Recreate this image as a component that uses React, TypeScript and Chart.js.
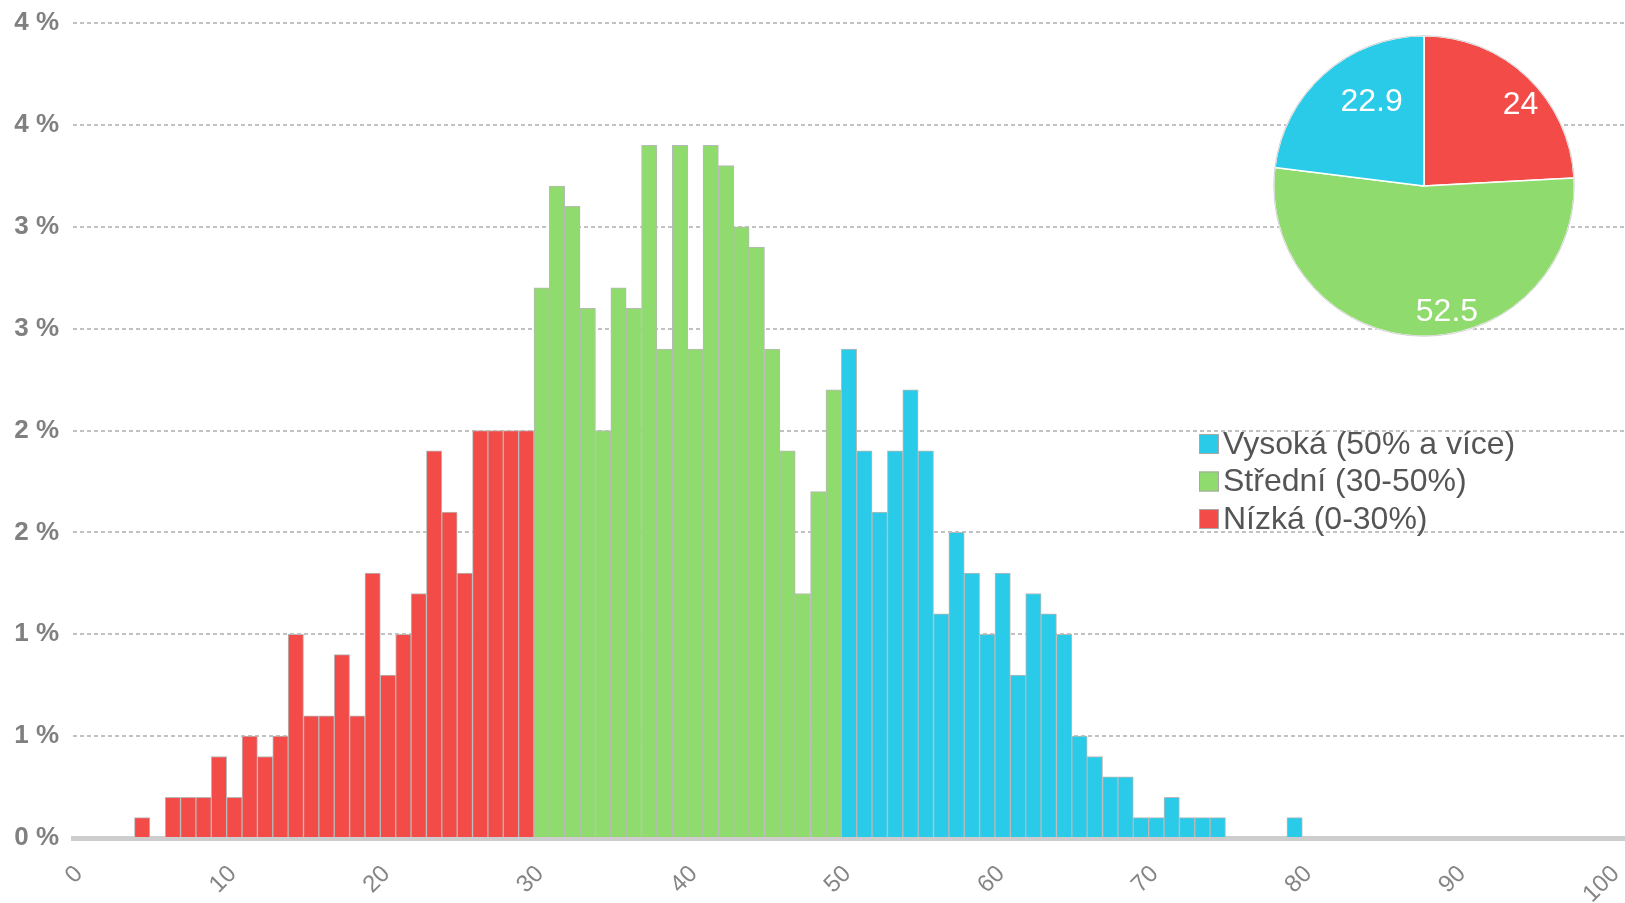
import React, { useEffect, useRef } from 'react';
import { Chart, registerables } from 'chart.js';

Chart.register(...registerables);

// Histogram values in % for bins 0..100
const values = [
  0, 0, 0, 0, 0.1, 0, 0.2, 0.2, 0.2, 0.4,
  0.2, 0.5, 0.4, 0.5, 1.0, 0.6, 0.6, 0.9, 0.6, 1.3,
  0.8, 1.0, 1.2, 1.9, 1.6, 1.3, 2.0, 2.0, 2.0, 2.0,
  2.7, 3.2, 3.1, 2.6, 2.0, 2.7, 2.6, 3.4, 2.4, 3.4,
  2.4, 3.4, 3.3, 3.0, 2.9, 2.4, 1.9, 1.2, 1.7, 2.2,
  2.4, 1.9, 1.6, 1.9, 2.2, 1.9, 1.1, 1.5, 1.3, 1.0,
  1.3, 0.8, 1.2, 1.1, 1.0, 0.5, 0.4, 0.3, 0.3, 0.1,
  0.1, 0.2, 0.1, 0.1, 0.1, 0, 0, 0, 0, 0.1,
  0, 0, 0, 0, 0, 0, 0, 0, 0, 0,
  0, 0, 0, 0, 0, 0, 0, 0, 0, 0,
  0,
];
const bins = values.map((_, i) => i);

const xTicks = [0, 10, 20, 30, 40, 50, 60, 70, 80, 90, 100];
const yTicks = [0, 0.5, 1, 1.5, 2, 2.5, 3, 3.5, 4];

const seriesNames = ['Vysoká (50% a více)', 'Střední (30-50%)', 'Nízká (0-30%)'];
const seriesFrom = [50, 30, 0];
const seriesColors = ['#2acbe8', '#8fdb6d', '#f34b47'];

const pieLabels = ['Nízká (0-30%)', 'Střední (30-50%)', 'Vysoká (50% a více)'];
const pieValues = [24, 52.5, 22.9];
const pieColors = ['#f34b47', '#8fdb6d', '#2acbe8'];

const colorFor = (bin: number) => seriesColors[seriesFrom.findIndex((f) => bin >= f)];

const legendPlugin = {
  id: 'customLegend',
  afterDraw(chart: any) {
    const ctx = chart.ctx;
    ctx.save();
    const x0 = 1199;
    const y0 = 444;
    const dy = 37.5;
    const box = 20;
    ctx.font = '32px "Liberation Sans", Arial, sans-serif';
    ctx.textBaseline = 'middle';
    ctx.textAlign = 'left';
    seriesNames.forEach((name, i) => {
      const y = y0 + i * dy;
      ctx.fillStyle = seriesColors[i];
      ctx.fillRect(x0, y - box / 2, box, box);
      ctx.strokeStyle = '#a8a8a8';
      ctx.lineWidth = 1;
      ctx.strokeRect(x0 + 0.5, y - box / 2 + 0.5, box - 1, box - 1);
      ctx.fillStyle = '#555555';
      ctx.fillText(name, x0 + 24, y + 1);
    });
    ctx.restore();
  },
};

const pieLabelPlugin = {
  id: 'pieLabels',
  afterDatasetsDraw(chart: any) {
    const ctx = chart.ctx;
    const meta = chart.getDatasetMeta(0);
    ctx.save();
    meta.data.forEach((arc: any, i: number) => {
      const { x, y, startAngle, endAngle, outerRadius } = arc.getProps(
        ['x', 'y', 'startAngle', 'endAngle', 'outerRadius'],
        true
      );
      if (i === 0) {
        ctx.beginPath();
        ctx.arc(x, y, outerRadius, 0, Math.PI * 2);
        ctx.strokeStyle = '#d2d2d2';
        ctx.lineWidth = 1;
        ctx.stroke();
      }
      const mid = (startAngle + endAngle) / 2;
      const r = outerRadius * 0.8;
      ctx.font = '32px "Liberation Sans", Arial, sans-serif';
      ctx.fillStyle = '#ffffff';
      ctx.textAlign = 'left';
      ctx.textBaseline = 'middle';
      ctx.fillText(String(pieValues[i]), x + Math.cos(mid) * r - 4, y + Math.sin(mid) * r + 6);
    });
    ctx.restore();
  },
};

export default function App() {
  const barRef = useRef<HTMLCanvasElement | null>(null);
  const pieRef = useRef<HTMLCanvasElement | null>(null);

  useEffect(() => {
    document.body.style.margin = '0';
    const barChart = new Chart(barRef.current as HTMLCanvasElement, {
      type: 'bar',
      data: {
        datasets: [
          {
            data: bins.map((b, i) => ({ x: b + 0.5, y: values[i] })),
            backgroundColor: bins.map(colorFor),
            borderColor: '#b9b9b9',
            borderWidth: 1,
            barPercentage: 1,
            categoryPercentage: 1,
            grouped: false,
          } as any,
        ],
      },
      options: {
        animation: false,
        responsive: true,
        maintainAspectRatio: false,
        events: [],
        layout: { padding: { top: 23, left: 0, right: 0, bottom: 0 } },
        plugins: { legend: { display: false }, tooltip: { enabled: false } },
        scales: {
          x: {
            type: 'linear',
            offset: false,
            min: 0,
            max: bins.length,
            afterBuildTicks: (s: any) => {
              s.ticks = xTicks.map((v) => ({ value: v }));
            },
            afterFit: (s: any) => {
              s.height = 65;
              s.paddingLeft = 0;
              s.paddingRight = 0;
            },
            grid: { display: false, drawTicks: false, offset: false },
            border: { display: true, color: '#cdcdcd', width: 5 },
            ticks: {
              autoSkip: false,
              minRotation: 45,
              maxRotation: 45,
              padding: 22,
              labelOffset: 6,
              color: '#858585',
              font: { family: '"Liberation Sans", Arial, sans-serif', size: 24 },
            },
          },
          y: {
            min: 0,
            max: 4,
            afterBuildTicks: (s: any) => {
              s.ticks = yTicks.map((v) => ({ value: v }));
            },
            afterFit: (s: any) => {
              s.width = 73;
              s.paddingTop = 0;
              s.paddingBottom = 0;
            },
            grid: { color: '#c2c2c2', lineWidth: 2, drawTicks: false },
            border: { display: false, dash: [4, 3] },
            ticks: {
              padding: 14,
              color: '#808080',
              font: { family: '"Liberation Sans", Arial, sans-serif', size: 26, weight: 'bold' },
              callback: (v: any) => Math.round(Number(v)) + ' %',
            },
          },
        },
      } as any,
      plugins: [legendPlugin],
    });

    const pieChart = new Chart(pieRef.current as HTMLCanvasElement, {
      type: 'pie',
      data: {
        labels: pieLabels,
        datasets: [
          {
            data: pieValues,
            backgroundColor: pieColors,
            borderColor: '#ffffff',
            borderWidth: 1.5,
          },
        ],
      },
      options: {
        animation: false,
        responsive: true,
        maintainAspectRatio: false,
        events: [],
        layout: { padding: 0 },
        plugins: { legend: { display: false }, tooltip: { enabled: false } },
      } as any,
      plugins: [pieLabelPlugin],
    });

    return () => {
      barChart.destroy();
      pieChart.destroy();
    };
  }, []);

  return (
    <div style={{ position: 'fixed', left: 0, top: 0, width: 1625, height: 903, background: '#fff' }}>
      <div style={{ position: 'absolute', left: 0, top: 0, width: 1625, height: 903 }}>
        <canvas ref={barRef} />
      </div>
      <div style={{ position: 'absolute', left: 1273, top: 35, width: 302, height: 302 }}>
        <canvas ref={pieRef} />
      </div>
    </div>
  );
}
